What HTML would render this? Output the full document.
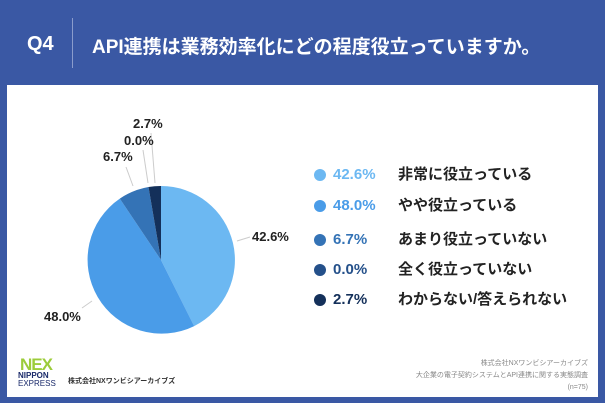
<!DOCTYPE html>
<html><head><meta charset="utf-8"><style>
body{margin:0;width:605px;height:403px;background:#3a58a4;position:relative;overflow:hidden;font-family:"Liberation Sans","Noto Sans CJK JP",sans-serif}
.t{position:absolute;color:#fff;font-weight:bold}
.panel{position:absolute;left:7px;top:85px;width:591px;height:312px;background:#fff}
.row{position:absolute;left:314px;height:20px;display:flex;align-items:center;font-size:15px;font-weight:bold;white-space:nowrap}
.row i{display:block;width:12px;height:12px;border-radius:50%;margin-right:7px}
.row b{display:block;width:65px;line-height:20px}
.row span{color:#222;line-height:20px}
</style></head><body>
<div class="t" style="left:27px;top:33px;font-size:20px">Q4</div>
<div style="position:absolute;left:72px;top:18px;width:1px;height:50px;background:#8a9ccc"></div>
<div class="t" style="left:92px;top:32px;font-size:19px">API連携は業務効率化にどの程度役立っていますか。</div>
<div class="panel"></div>
<svg style="position:absolute;left:0;top:0" width="605" height="403">
<path d="M161,260 L161,186 A74,74 0 0 1 194.2,326.1 Z" fill="#6cb8f2"/>
<path d="M161,260 L194.2,326.1 A74,74 0 0 1 119.8,198.6 Z" fill="#4a9ce8"/>
<path d="M161,260 L119.8,198.6 A74,74 0 0 1 148.5,187 Z" fill="#3473b6"/>
<path d="M161,260 L148.5,187 A74,74 0 0 1 161,186 Z" fill="#14305a"/>
<g stroke="#ccc" stroke-width="1" fill="none">
<line x1="237" y1="241" x2="250" y2="237"/>
<line x1="92" y1="301" x2="82" y2="308"/>
<line x1="133" y1="186" x2="126" y2="167"/>
<line x1="148" y1="183" x2="143" y2="150"/>
<line x1="155" y1="183" x2="151" y2="133"/>
</g>
<g font-family="Liberation Sans,sans-serif" font-weight="bold" font-size="13" fill="#222">
<text x="252" y="241">42.6%</text>
<text x="44" y="321">48.0%</text>
<text x="103" y="161">6.7%</text>
<text x="124" y="145">0.0%</text>
<text x="133" y="128">2.7%</text>
</g>
</svg>
<div class="row" style="top:165px;color:#6cb8f2"><i style="background:#6cb8f2"></i><b>42.6%</b><span>非常に役立っている</span></div>
<div class="row" style="top:196px;color:#4a9ce8"><i style="background:#4a9ce8"></i><b>48.0%</b><span>やや役立っている</span></div>
<div class="row" style="top:230px;color:#3473b6"><i style="background:#3473b6"></i><b>6.7%</b><span>あまり役立っていない</span></div>
<div class="row" style="top:260px;color:#24508a"><i style="background:#24508a"></i><b>0.0%</b><span>全く役立っていない</span></div>
<div class="row" style="top:290px;color:#14305a"><i style="background:#14305a"></i><b>2.7%</b><span>わからない/答えられない</span></div>
<div style="position:absolute;left:20px;top:355px;font-size:17px;font-weight:bold;color:#9ccc3a;letter-spacing:-1px">NEX</div>
<div style="position:absolute;left:18px;top:372px;font-size:8px;font-weight:bold;color:#1a2a6a;line-height:8px">NIPPON<br><span style="font-weight:normal">EXPRESS</span></div>
<div style="position:absolute;left:68px;top:376px;font-size:7px;font-weight:bold;color:#333">株式会社NXワンビシアーカイブズ</div>
<div style="position:absolute;left:300px;width:288px;top:358px;font-size:7px;color:#888;text-align:right;line-height:12px">株式会社NXワンビシアーカイブズ<br>大企業の電子契約システムとAPI連携に関する実態調査<br>(n=75)</div>
</body></html>
